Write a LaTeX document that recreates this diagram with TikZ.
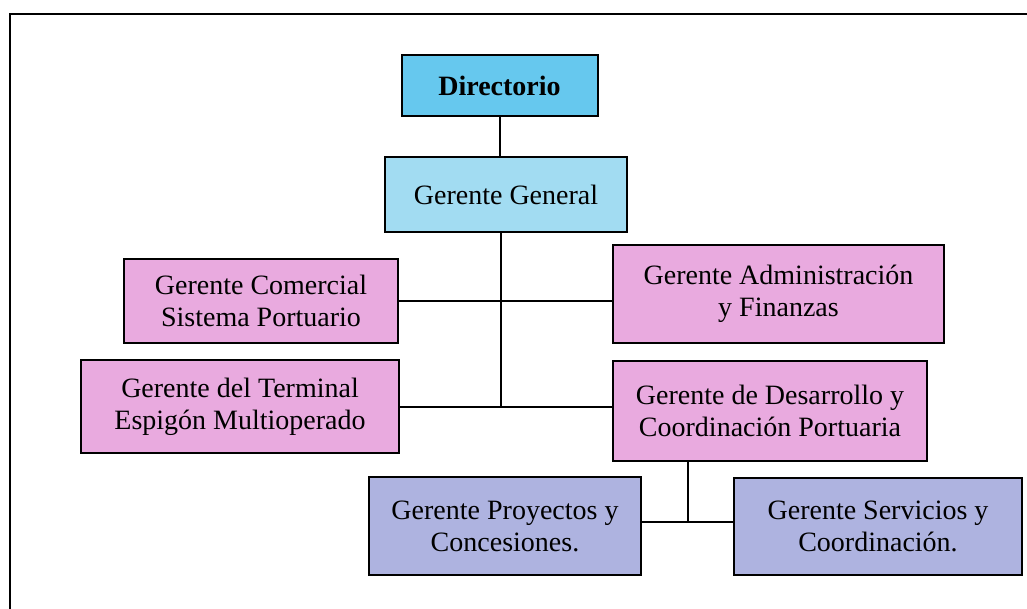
\documentclass[tikz,border=0pt]{standalone}
\usepackage{fontspec}
\setmainfont{Liberation Serif}
\definecolor{dirblue}{HTML}{66C8EE}
\definecolor{ggblue}{HTML}{A2DCF2}
\definecolor{mgrpink}{HTML}{E9AADF}
\definecolor{subblue}{HTML}{AEB3E0}
\begin{document}
\begin{tikzpicture}[x=1pt,y=-1pt,
  orgbox/.style={draw=black, line width=2pt, align=center, inner sep=0pt,
    font=\fontsize{28}{32}\selectfont, text=black},
  link/.style={draw=black, line width=2pt}]
\useasboundingbox (0,0) rectangle (1027,609);
\draw[line width=2.4pt] (10,609) -- (10,14) -- (1027,14);

\node[orgbox, fill=dirblue, minimum width=196pt, minimum height=61pt, font=\fontsize{28}{32}\selectfont\bfseries] (dir) at (499.5,86) {Directorio};
\node[orgbox, fill=ggblue, minimum width=242pt, minimum height=75pt] (gg) at (506,194.5) {Gerente General};
\node[orgbox, fill=mgrpink, minimum width=274pt, minimum height=84pt] (com) at (261,301) {Gerente Comercial\\Sistema Portuario};
\node[orgbox, fill=mgrpink, minimum width=331pt, minimum height=98pt] (adm) at (778.5,294) {Gerente Administración\\y Finanzas};
\node[orgbox, fill=mgrpink, minimum width=318pt, minimum height=93pt] (ter) at (240,406.5) {Gerente del Terminal\\Espigón Multioperado};
\node[orgbox, fill=mgrpink, minimum width=314pt, minimum height=100pt] (des) at (770,411) {Gerente de Desarrollo y\\Coordinación Portuaria};
\node[orgbox, fill=subblue, minimum width=272pt, minimum height=98pt] (pro) at (505,526) {Gerente Proyectos y\\Concesiones.};
\node[orgbox, fill=subblue, minimum width=288pt, minimum height=97pt] (ser) at (878,526.5) {Gerente Servicios y\\Coordinación.};

\coordinate (spine) at (500.5,407);
\coordinate (sub) at (688,522);

\draw[link] (dir.south) -- (dir.south |- gg.north);
\draw[link] (spine |- gg.south) -- (spine);
\draw[link] (com.east) -- (com.east -| adm.west);
\draw[link] (ter.east) -- (ter.east -| des.west);
\draw[link] (sub |- des.south) -- (sub);
\draw[link] (pro.east |- sub) -- (ser.west |- sub);
\end{tikzpicture}
\end{document}
